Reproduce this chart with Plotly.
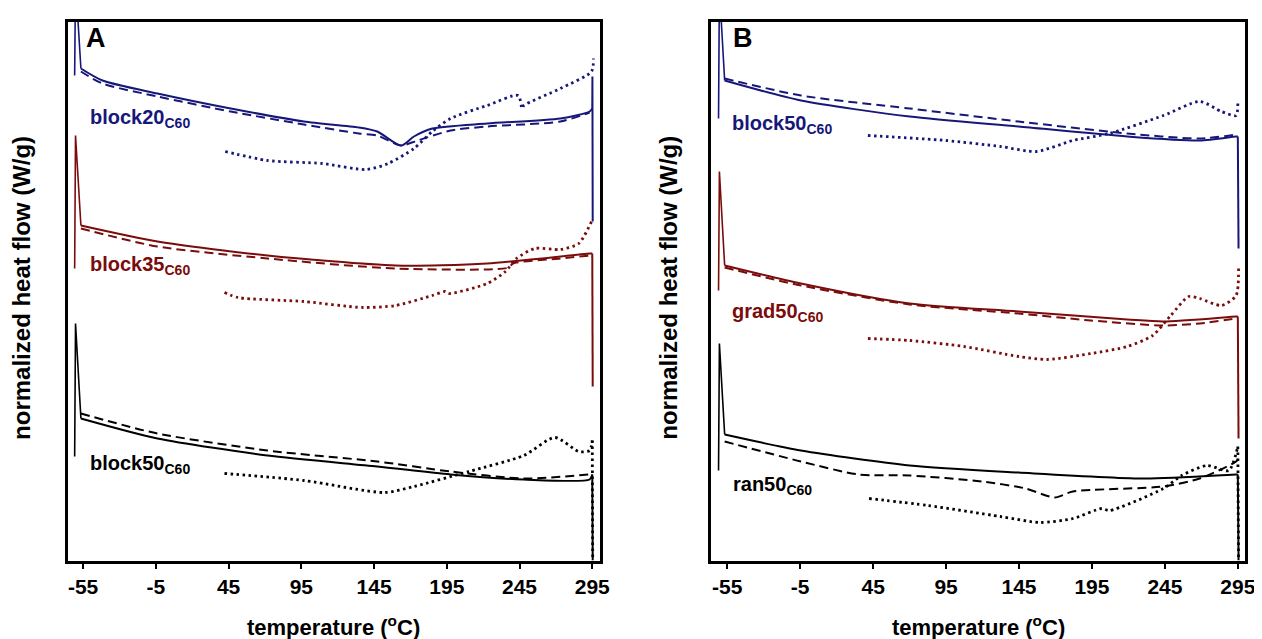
import plotly.graph_objects as go

# ---------------- data (temperature in °C, normalized heat flow in arbitrary offset units) ----------------
# Panel A
A_b20_solid_T = [-60.8, -60.2, -56.5, -41.7, -3.9, 46.5, 96.8, 134.6, 147.2, 163.6, 172.4, 185.0, 222.7, 273.1, 293.2, 295.0, 295.1, 295.3]
A_b20_solid_Q = [4.85, 5.80, 4.92, 4.80, 4.67, 4.52, 4.39, 4.33, 4.29, 4.15, 4.24, 4.32, 4.37, 4.42, 4.49, 4.52, 4.84, 3.39]
A_b20_dash_T = [-56.5, -41.7, -3.9, 46.5, 96.8, 134.6, 147.2, 163.6, 174.9, 197.6, 222.7, 273.1, 293.2]
A_b20_dash_Q = [4.89, 4.77, 4.64, 4.49, 4.36, 4.27, 4.25, 4.15, 4.20, 4.30, 4.34, 4.39, 4.48]
A_b20_dot_T = [42.7, 71.7, 109.4, 139.6, 154.7, 172.4, 185.0, 197.6, 222.7, 244.1, 246.7, 247.9, 273.1, 294.5, 295.8]
A_b20_dot_Q = [4.09, 4.00, 3.97, 3.91, 3.97, 4.12, 4.29, 4.42, 4.55, 4.65, 4.52, 4.55, 4.72, 4.89, 5.02]

A_b35_solid_T = [-60.8, -60.2, -56.5, -3.9, 71.7, 159.8, 222.7, 293.2, 295.0, 295.3]
A_b35_solid_Q = [2.92, 4.25, 3.35, 3.19, 3.05, 2.95, 2.97, 3.07, 3.07, 1.74]
A_b35_dash_T = [-56.5, -3.9, 71.7, 159.8, 237.8, 240.4, 273.1, 293.2]
A_b35_dash_Q = [3.32, 3.14, 3.02, 2.92, 2.93, 2.97, 3.02, 3.05]
A_b35_dot_T = [42.2, 51.5, 96.8, 137.1, 159.8, 185.0, 193.8, 196.3, 222.7, 235.3, 242.9, 255.5, 273.1, 285.7, 294.5]
A_b35_dot_Q = [2.68, 2.63, 2.59, 2.53, 2.55, 2.65, 2.69, 2.67, 2.77, 2.89, 3.02, 3.12, 3.11, 3.17, 3.39]

A_b50_solid_T = [-60.8, -60.2, -56.5, -3.9, 71.7, 147.2, 197.6, 247.9, 293.2, 295.0, 295.3]
A_b50_solid_Q = [1.04, 2.37, 1.42, 1.22, 1.05, 0.94, 0.86, 0.81, 0.81, 0.86, 0.0]
A_b50_dash_T = [-56.5, -3.9, 71.7, 147.2, 197.6, 247.9, 293.2]
A_b50_dash_Q = [1.47, 1.27, 1.10, 0.99, 0.89, 0.82, 0.86]
A_b50_dot_T = [42.2, 96.8, 152.2, 172.4, 210.1, 247.9, 269.3, 285.7, 293.2, 295.0, 295.3]
A_b50_dot_Q = [0.87, 0.80, 0.68, 0.74, 0.89, 1.05, 1.23, 1.09, 1.10, 1.20, 0.0]

# Panel B
B_b50_solid_T = [-61.0, -60.4, -56.8, -4.5, 70.0, 144.6, 219.2, 268.9, 293.8, 295.0, 295.5]
B_b50_solid_Q = [4.42, 5.72, 4.80, 4.60, 4.44, 4.34, 4.24, 4.20, 4.24, 4.24, 3.12]
B_b50_dash_T = [-56.8, -4.5, 70.0, 144.6, 219.2, 268.9, 293.8]
B_b50_dash_Q = [4.82, 4.65, 4.52, 4.39, 4.27, 4.22, 4.26]
B_b50_dot_T = [41.4, 94.9, 132.2, 157.0, 181.9, 206.8, 244.0, 268.9, 283.8, 293.8, 295.0]
B_b50_dot_Q = [4.25, 4.20, 4.14, 4.09, 4.20, 4.27, 4.45, 4.59, 4.49, 4.45, 4.59]

B_g50_solid_T = [-61.0, -60.4, -56.8, -4.5, 70.0, 144.6, 219.2, 244.0, 293.8, 295.0, 295.5]
B_g50_solid_Q = [2.70, 3.89, 2.95, 2.77, 2.57, 2.49, 2.41, 2.39, 2.44, 2.44, 1.22]
B_g50_dash_T = [-56.8, -4.5, 70.0, 144.6, 194.3, 244.0, 268.9, 293.8]
B_g50_dash_Q = [2.93, 2.75, 2.56, 2.47, 2.40, 2.35, 2.37, 2.42]
B_g50_dot_T = [41.4, 70.0, 107.3, 144.6, 164.5, 194.3, 219.2, 236.6, 249.0, 261.4, 268.9, 283.8, 293.8, 295.5]
B_g50_dot_Q = [2.22, 2.20, 2.14, 2.04, 2.01, 2.07, 2.14, 2.25, 2.45, 2.64, 2.62, 2.55, 2.65, 2.92]

B_r50_solid_T = [-61.0, -60.4, -56.8, -4.5, 70.0, 144.6, 231.6, 293.8, 295.0, 295.5]
B_r50_solid_Q = [0.90, 2.17, 1.26, 1.10, 0.95, 0.88, 0.82, 0.86, 0.86, 0.0]
B_r50_dash_T = [-56.8, -4.5, 35.2, 70.0, 119.8, 149.6, 169.5, 181.9, 244.0, 268.9, 293.8, 295.5]
B_r50_dash_Q = [1.19, 0.99, 0.86, 0.85, 0.79, 0.72, 0.63, 0.69, 0.74, 0.82, 0.99, 1.02]
B_r50_dot_T = [42.2, 82.5, 132.2, 159.5, 181.9, 201.8, 206.8, 244.0, 256.5, 273.9, 288.8, 295.0, 295.5]
B_r50_dot_Q = [0.62, 0.55, 0.44, 0.38, 0.42, 0.52, 0.50, 0.72, 0.85, 0.95, 0.90, 1.14, 0.0]

tick_vals = [-55, -5, 45, 95, 145, 195, 245, 295]
tick_text = [str(v) for v in tick_vals]

NAVY = "#17177a"
MAROON = "#7a0c0c"
BLACK = "#000000"
FONT = "Liberation Sans, Arial, Helvetica, sans-serif"

W, H = 1262, 639

fig = go.Figure()

series = [
    ("x", "y", A_b20_solid_T, A_b20_solid_Q, NAVY, "solid"),
    ("x", "y", A_b20_dash_T, A_b20_dash_Q, NAVY, "dash"),
    ("x", "y", A_b20_dot_T, A_b20_dot_Q, NAVY, "dot"),
    ("x", "y", A_b35_solid_T, A_b35_solid_Q, MAROON, "solid"),
    ("x", "y", A_b35_dash_T, A_b35_dash_Q, MAROON, "dash"),
    ("x", "y", A_b35_dot_T, A_b35_dot_Q, MAROON, "dot"),
    ("x", "y", A_b50_solid_T, A_b50_solid_Q, BLACK, "solid"),
    ("x", "y", A_b50_dash_T, A_b50_dash_Q, BLACK, "dash"),
    ("x", "y", A_b50_dot_T, A_b50_dot_Q, BLACK, "dot"),
    ("x2", "y2", B_b50_solid_T, B_b50_solid_Q, NAVY, "solid"),
    ("x2", "y2", B_b50_dash_T, B_b50_dash_Q, NAVY, "dash"),
    ("x2", "y2", B_b50_dot_T, B_b50_dot_Q, NAVY, "dot"),
    ("x2", "y2", B_g50_solid_T, B_g50_solid_Q, MAROON, "solid"),
    ("x2", "y2", B_g50_dash_T, B_g50_dash_Q, MAROON, "dash"),
    ("x2", "y2", B_g50_dot_T, B_g50_dot_Q, MAROON, "dot"),
    ("x2", "y2", B_r50_solid_T, B_r50_solid_Q, BLACK, "solid"),
    ("x2", "y2", B_r50_dash_T, B_r50_dash_Q, BLACK, "dash"),
    ("x2", "y2", B_r50_dot_T, B_r50_dot_Q, BLACK, "dot"),
]

dash_map = {"solid": "solid", "dash": "9px,5px", "dot": "2.5px,3.5px"}
width_map = {"solid": 2.0, "dash": 2.0, "dot": 2.8}


def add_seg(xa, ya, T, Q, col, style, shape, width=None):
    if len(T) < 2:
        return
    fig.add_trace(go.Scatter(
        x=T, y=Q, xaxis=xa, yaxis=ya, mode="lines",
        line=dict(color=col, width=width or width_map[style], dash=dash_map[style],
                  shape=shape, smoothing=0.7 if shape == "spline" else None),
        showlegend=False, hoverinfo="skip",
    ))


for xa, ya, T, Q, col, style in series:
    # start-up spike (T < -58) drawn straight and thin, body smooth, final vertical straight
    start = 0
    while start < len(T) and T[start] < -58:
        start += 1
    i1 = len(T) - 1
    while i1 > start and T[i1 - 1] >= 294.9:
        i1 -= 1
    if start > 0:
        add_seg(xa, ya, T[:start + 1], Q[:start + 1], col, style, "linear", width=1.6)
    add_seg(xa, ya, T[start:i1 + 1], Q[start:i1 + 1], col, style, "spline")
    if i1 < len(T) - 1:
        add_seg(xa, ya, T[i1:], Q[i1:], col, style, "linear")

ydom = [1 - 552.5 / H, 1 - 14 / H]
common_x = dict(
    tickmode="array", tickvals=tick_vals, ticktext=tick_text,
    ticks="outside", ticklen=6, tickwidth=2, tickcolor="black",
    showline=True, linewidth=2.5, linecolor="black", mirror=True,
    showgrid=False, zeroline=False,
    tickfont=dict(family=FONT, size=21, color="black", weight="bold"),
    ticklabelstandoff=0,
)
common_y = dict(
    range=[0, 5.385], showticklabels=False, ticks="",
    showline=True, linewidth=2.5, linecolor="black", mirror=True,
    showgrid=False, zeroline=False,
)

fig.update_layout(
    width=W, height=H,
    margin=dict(l=0, r=0, t=0, b=0),
    paper_bgcolor="white", plot_bgcolor="white",
    xaxis=dict(domain=[60 / W, 597 / W], range=[-65.7, 300.5], anchor="y", **common_x),
    yaxis=dict(domain=ydom, anchor="x", **common_y),
    xaxis2=dict(domain=[709 / W, 1247 / W], range=[-65.9, 300.0], anchor="y2", **common_x),
    yaxis2=dict(domain=ydom, anchor="x2", **common_y),
)


def px(xp, yp):
    return xp / W, 1 - yp / H


annos = []


def add_text(xp, yp, text, size, color="black", xanchor="center", angle=0):
    x, y = px(xp, yp)
    annos.append(dict(x=x, y=y, xref="paper", yref="paper", text=text, showarrow=False,
                      xanchor=xanchor, yanchor="middle", textangle=angle,
                      font=dict(family=FONT, size=size, color=color, weight="bold")))


# panel letters
add_text(89, 30, "A", 27)
add_text(741, 30, "B", 27)

# sample labels
add_text(81, 110, "block20<sub>C60</sub>", 20, NAVY, "left")
add_text(81, 257, "block35<sub>C60</sub>", 20, MAROON, "left")
add_text(81, 456, "block50<sub>C60</sub>", 20, BLACK, "left")
add_text(728, 117, "block50<sub>C60</sub>", 20, NAVY, "left")
add_text(728, 304, "grad50<sub>C60</sub>", 20, MAROON, "left")
add_text(729, 477, "ran50<sub>C60</sub>", 20, BLACK, "left")

# axis titles
add_text(328, 618, "temperature (<sup>o</sup>C)", 22)
add_text(978, 618, "temperature (<sup>o</sup>C)", 22)
add_text(13, 280, "normalized heat flow (W/g)", 24, angle=-90)
add_text(665, 280, "normalized heat flow (W/g)", 24, angle=-90)

fig.update_layout(annotations=annos)

fig.write_html("out.html")
